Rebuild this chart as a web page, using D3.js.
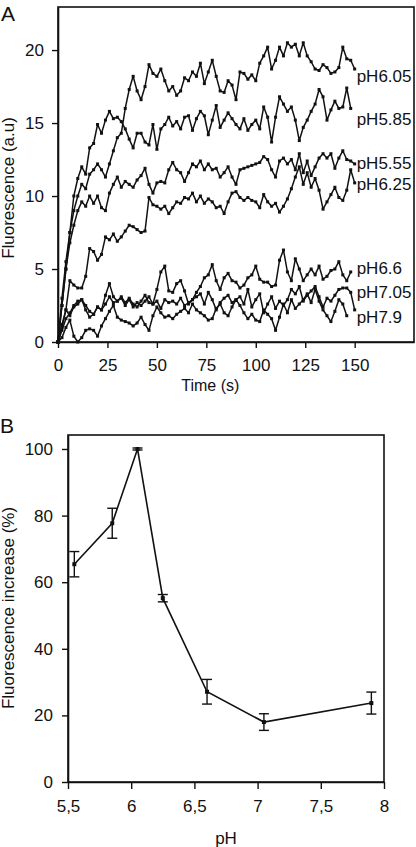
<!DOCTYPE html>
<html>
<head>
<meta charset="utf-8">
<script src="https://cdn.jsdelivr.net/npm/d3@7"></script>
<style>
  html, body { margin: 0; padding: 0; background: #fff; }
  svg { display: block; font-family: "Liberation Sans", Arial, sans-serif; }
</style>
</head>
<body>
<svg id="chart" width="416" height="847"></svg>
<script>
// ---------------- Panel A data (fluorescence vs time, sampled every 2 s) ----------------
const sampleInterval = 2; // seconds between points
const seriesNames = ["pH6.05", "pH5.85", "pH5.55", "pH6.25", "pH6.6", "pH7.05", "pH7.9"];
const labelValues = [18.2, 15.3, 12.3, 10.8, 5.1, 3.4, 1.7];

const pH605 = [0,3,5.5,7.5,9,10,10.8,10.5,11.5,11.8,12.2,11.8,11.3,12.2,13.1,14,14.3,16,17.3,18.2,
  17.2,16.6,17.5,19,18.4,18.2,18.7,17.9,17.2,17.5,16.9,17.2,18.1,17.9,18.5,18.2,19.1,17.7,18.5,19.3,
  18.2,17.2,17.1,17.9,17.6,16.6,18.5,18.4,18,18.3,17.9,19.1,19.6,20.2,18.7,19.3,20.2,19.6,20.5,20.2,
  20.4,19.6,20.5,19.6,19.2,18.7,18.6,19,18.8,18.4,18.5,18.8,20.2,19.4,19.3,18.7];
const pH585 = [0,2.5,5,7.5,10,11.2,12,11.5,13.3,13.6,14.9,14.3,15.2,15.8,15.3,15.4,15.1,14.6,13.9,13.3,
  14.3,14.3,13.7,13.5,14.9,13.2,14.6,14.9,15.4,14.8,15.1,14.6,15.4,15.5,14.5,15.3,15.8,15.5,14.2,15.2,
  16.2,14.7,15.2,15.7,15.3,14.9,14.6,15.3,14.5,14.9,15.2,14.6,16.1,15.4,13.7,15.4,16.8,16.3,15.8,16.1,
  15.2,13.8,14.7,15.2,15.8,16.3,17.3,16.8,15.2,15.9,16.5,16,16.1,17.4,16];
const pH555 = [0,2.5,5,6.8,8,9,9.6,9.3,10,9.5,10,9.2,9,10.2,10.8,11.3,10.6,11,10.8,10.6,
  11.1,11.4,11.9,10.8,10.2,10.9,11,10.9,11.8,12.3,11.8,11.6,11,11.6,12.2,12,12.4,11.8,12.2,11.8,
  11.9,11.3,11.6,12,11.3,10.8,11.8,11.9,12,12.1,12.2,12.3,12.7,12.5,11.8,11.3,12.4,12.6,12.2,12.5,
  11.8,12.9,11.6,12.4,11.4,12,12.6,12.9,12.6,12.9,11.9,12.6,13.1,12.5,12.4,12.2];
const pH625 = [0,1,2.2,4.2,3.9,3.7,3.7,4.5,6.4,6.2,5.6,6,7.2,7,7.4,6.9,7.2,7.6,8,7.9,
  7.7,7.5,7.6,9.9,9.4,9.3,9.1,9.3,8.8,9.2,9.6,9.5,9.9,9.8,10.2,9.6,10,9.5,9.8,9.6,
  9.2,9.3,8.8,9.6,10.2,10.3,9.9,9.7,9.9,9.7,9.6,9.2,10.1,9.6,9.3,9.5,8.9,9.3,9.8,10.5,
  11.3,12,10.8,11.6,10.6,11.2,10.4,9.1,9.6,10.1,10.6,9.9,9.7,10.4,11.8,10.9];
const pH66 = [0,0.8,1.6,2,2.5,2.8,2.9,2.5,2.1,1.9,2.4,2.2,3.2,4,3.1,2.8,3.1,2.7,3,2.6,
  2.4,2.8,3.2,2.7,2.6,3.6,4.8,5.2,3.5,3.4,4,4.2,3.5,2.6,2.9,3.4,3.8,4.4,4.6,5.3,
  4.2,3.6,4.4,4.7,4.2,4.1,3.7,3.9,4.4,4.6,5.2,4.3,4.1,4.1,3.8,3.9,5.6,6.3,4.8,4.2,
  5.7,5,4.2,4.6,5,4.6,5.2,4.3,4.5,4.9,5,5.5,4.6,4.2,4.8];
const pH705 = [0,1.2,2.2,1.8,2.4,2.6,2.9,2.2,1.7,1.9,2.4,2.2,2.6,3.1,2.7,2.8,3,2.5,2.9,2.4,
  2.7,2.5,2.8,3.1,2.6,2.8,2.3,2.9,2.7,2.8,2.6,3,2.5,2.7,2.9,3.1,3.3,2.6,3.4,2.9,
  2.2,2.7,3,3.2,2.7,2.9,3.1,2.6,3.6,2.4,2.9,3.3,2,2.6,3.1,2.3,2.8,2.5,2.9,3.6,
  3.3,3.8,2.8,3.2,3.5,3.8,3.1,2.4,3,2.8,3.2,3.6,3.7,3.7,3.4,2.2];
const pH79 = [0,0.3,1,1.5,0.4,0,0.3,0.8,0.9,0.8,0.4,1.1,1.6,2.1,2.5,1.7,1.5,1.4,1.3,1.1,
  1.3,1.7,1.2,0.8,1.8,2.4,2,1.7,1.8,1.6,1.9,2.1,2.3,2,2.6,2.2,2,1.8,1.5,1.6,
  2.3,2.6,2,1.8,2.4,2.9,2.5,2,1.6,1.9,1.5,1.4,2.2,1.9,1.6,0.8,1.7,2.6,2,2.9,
  2.3,2.6,2.9,3.3,2.7,3.6,2.8,2.2,1.8,1.4,2.1,2.9,2.6,1.8];
const seriesValues = [pH605, pH585, pH555, pH625, pH66, pH705, pH79];
const timeTicks = [0, 25, 50, 75, 100, 125, 150];
const fluoTicks = [0, 5, 10, 15, 20];

// ---------------- Panel B data (fluorescence increase vs pH) ----------------
const phValues = [5.55, 5.85, 6.05, 6.25, 6.6, 7.05, 7.9];
const increase = [65.4, 77.7, 100, 55.2, 27.1, 18, 23.7];
const increaseErr = [3.8, 4.5, 0.3, 1.1, 3.7, 2.5, 3.3];
const phTicks = [5.5, 6, 6.5, 7, 7.5, 8];
const incTicks = [0, 20, 40, 60, 80, 100];

// ---------------- Drawing ----------------
const svg = d3.select("#chart");
const FONT = 17;
const ink = "#111";

function styleAxis(g) {
  g.selectAll(".domain").attr("stroke", ink).attr("stroke-width", 1.6);
  g.selectAll(".tick line").attr("stroke", ink).attr("stroke-width", 1.4);
  g.selectAll(".tick text").attr("fill", ink).style("font-size", FONT + "px")
    .style("font-family", '"Liberation Sans", Arial, sans-serif');
}

// Panel A
const A = { left: 58, right: 414, top: 7, bottom: 342 };
const xA = d3.scaleLinear().domain([0, 180]).range([A.left, A.right]);
const yA = d3.scaleLinear().domain([0, 22.95]).range([A.bottom, A.top]);

svg.append("rect").attr("x", A.left).attr("y", A.top)
  .attr("width", A.right - A.left).attr("height", A.bottom - A.top)
  .attr("fill", "none").attr("stroke", ink).attr("stroke-width", 1.6);

svg.append("g").attr("transform", `translate(0,${A.bottom})`)
  .call(d3.axisBottom(xA).tickValues(timeTicks).tickSize(6).tickPadding(11).tickSizeOuter(0))
  .call(styleAxis);
svg.append("g").attr("transform", `translate(${A.left},0)`)
  .call(d3.axisLeft(yA).tickValues(fluoTicks).tickSize(6).tickPadding(8).tickSizeOuter(0))
  .call(styleAxis);

const lineA = d3.line().x((d, i) => xA(i * sampleInterval)).y(d => yA(d));
seriesValues.forEach((vals, si) => {
  const g = svg.append("g");
  g.append("path").datum(vals).attr("d", lineA)
    .attr("fill", "none").attr("stroke", ink).attr("stroke-width", 1.5)
    .attr("stroke-linejoin", "round");
  g.selectAll("rect").data(vals).join("rect")
    .attr("x", (d, i) => xA(i * sampleInterval) - 1.5)
    .attr("y", d => yA(d) - 1.5)
    .attr("width", 3).attr("height", 3).attr("fill", ink);
  svg.append("text").attr("x", xA(150) + 2).attr("y", yA(labelValues[si]))
    .attr("dy", "0.36em").style("font-size", FONT + "px").attr("fill", ink)
    .text(seriesNames[si]);
});

svg.append("text").attr("x", xA(77)).attr("y", 391).attr("text-anchor", "middle")
  .style("font-size", "16px").attr("fill", ink).text("Time (s)");
svg.append("text").attr("transform", `translate(14,${188}) rotate(-90)`)
  .attr("text-anchor", "middle").style("font-size", FONT + "px").attr("fill", ink)
  .text("Fluorescence (a.u)");
svg.append("text").attr("x", 1).attr("y", 21).style("font-size", "21px").attr("fill", ink).text("A");

// Panel B
const B = { left: 68, right: 384, top: 435, bottom: 782 };
const xB = d3.scaleLinear().domain([5.5, 8]).range([B.left, B.right]);
const yB = d3.scaleLinear().domain([0, 104.2]).range([B.bottom, B.top]);
const commaFmt = v => String(v).replace(".", ",");

svg.append("rect").attr("x", B.left).attr("y", B.top)
  .attr("width", B.right - B.left).attr("height", B.bottom - B.top)
  .attr("fill", "none").attr("stroke", ink).attr("stroke-width", 1.6);

svg.append("g").attr("transform", `translate(0,${B.bottom})`)
  .call(d3.axisBottom(xB).tickValues(phTicks).tickFormat(commaFmt).tickSize(7).tickPadding(11).tickSizeOuter(0))
  .call(styleAxis);
svg.append("g").attr("transform", `translate(${B.left},0)`)
  .call(d3.axisLeft(yB).tickValues(incTicks).tickSize(6).tickPadding(9).tickSizeOuter(0))
  .call(styleAxis);

const ptsB = phValues.map((p, i) => ({ p, v: increase[i], e: increaseErr[i] }));
svg.append("path").datum(ptsB)
  .attr("d", d3.line().x(d => xB(d.p)).y(d => yB(d.v)))
  .attr("fill", "none").attr("stroke", ink).attr("stroke-width", 1.6);

const eb = svg.append("g").attr("stroke", ink).attr("stroke-width", 1.4);
ptsB.forEach(d => {
  const x = xB(d.p);
  eb.append("line").attr("x1", x).attr("x2", x).attr("y1", yB(d.v - d.e)).attr("y2", yB(d.v + d.e));
  eb.append("line").attr("x1", x - 5).attr("x2", x + 5).attr("y1", yB(d.v - d.e)).attr("y2", yB(d.v - d.e));
  eb.append("line").attr("x1", x - 5).attr("x2", x + 5).attr("y1", yB(d.v + d.e)).attr("y2", yB(d.v + d.e));
});
svg.append("g").selectAll("rect").data(ptsB).join("rect")
  .attr("x", d => xB(d.p) - 2).attr("y", d => yB(d.v) - 2)
  .attr("width", 4).attr("height", 4).attr("fill", ink);

svg.append("text").attr("x", xB(6.75)).attr("y", 844).attr("text-anchor", "middle")
  .style("font-size", FONT + "px").attr("fill", ink).text("pH");
svg.append("text").attr("transform", `translate(14,${608}) rotate(-90)`)
  .attr("text-anchor", "middle").style("font-size", FONT + "px").attr("fill", ink)
  .text("Fluorescence increase (%)");
svg.append("text").attr("x", 0).attr("y", 433).style("font-size", "21px").attr("fill", ink).text("B");
</script>
</body>
</html>
